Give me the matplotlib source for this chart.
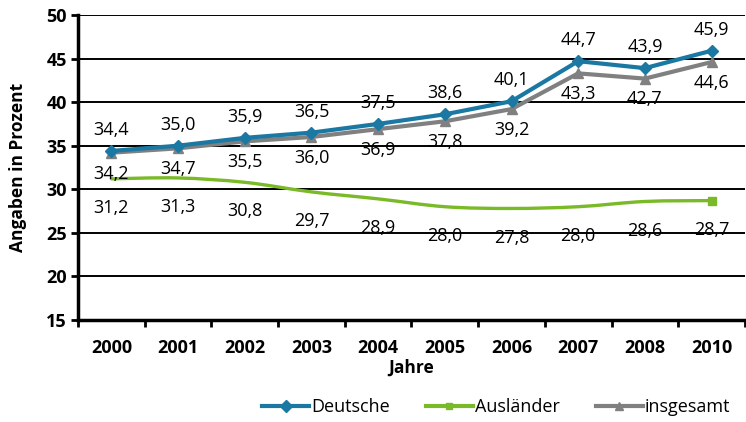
import matplotlib
matplotlib.use('Agg')
import matplotlib.pyplot as plt
from matplotlib.path import Path
from matplotlib.patches import PathPatch
from matplotlib.lines import Line2D

plt.rcParams['font.family'] = ['Open Sans', 'DejaVu Sans']

years = ['2000', '2001', '2002', '2003', '2004', '2005', '2006', '2007', '2008', '2010']
deutsche = [34.4, 35.0, 35.9, 36.5, 37.5, 38.6, 40.1, 44.7, 43.9, 45.9]
auslaender = [31.2, 31.3, 30.8, 29.7, 28.9, 28.0, 27.8, 28.0, 28.6, 28.7]
insgesamt = [34.2, 34.7, 35.5, 36.0, 36.9, 37.8, 39.2, 43.3, 42.7, 44.6]

c_de = '#1a78a3'
c_au = '#7aba28'
c_in = '#808080'


def fmt(v):
    return ('%.1f' % v).replace('.', ',')


def smooth_path(xs, ys):
    # Catmull-Rom style bezier through the points (like Excel's smoothed line)
    verts = [(xs[0], ys[0])]
    codes = [Path.MOVETO]
    n = len(xs)
    for i in range(n - 1):
        x0, y0 = (xs[i - 1], ys[i - 1]) if i > 0 else (xs[i], ys[i])
        x1, y1 = xs[i], ys[i]
        x2, y2 = xs[i + 1], ys[i + 1]
        x3, y3 = (xs[i + 2], ys[i + 2]) if i + 2 < n else (x2, y2)
        verts += [(x1 + (x2 - x0) / 6, y1 + (y2 - y0) / 6),
                  (x2 - (x3 - x1) / 6, y2 - (y3 - y1) / 6),
                  (x2, y2)]
        codes += [Path.CURVE4] * 3
    return Path(verts, codes)


fig = plt.figure(figsize=(7.46, 4.22), dpi=100)
ax = fig.add_axes([0.1046, 0.2417, 0.894, 0.7228])

x = list(range(len(years)))

for yv in range(20, 55, 5):
    ax.axhline(yv, color='black', lw=1.4, zorder=1)

ax.plot(x, deutsche, color=c_de, lw=3, marker='D', ms=6, zorder=4)
ax.plot(x, insgesamt, color=c_in, lw=3, marker='^', ms=7, zorder=3)
ax.add_patch(PathPatch(smooth_path(x, auslaender), fill=False, edgecolor=c_au,
                       lw=2.4, zorder=3, capstyle='round'))
ax.plot(x[-1], auslaender[-1], color=c_au, marker='s', ms=6, ls='none', zorder=3)

for xi, v in zip(x, deutsche):
    ax.annotate(fmt(v), (xi, v), xytext=(0, 15), textcoords='offset points',
                ha='center', va='center', fontsize=13)
for xi, v in zip(x, insgesamt):
    ax.annotate(fmt(v), (xi, v), xytext=(0, -15), textcoords='offset points',
                ha='center', va='center', fontsize=13)
for xi, v in zip(x, auslaender):
    ax.annotate(fmt(v), (xi, v), xytext=(0, -21), textcoords='offset points',
                ha='center', va='center', fontsize=13)

ax.set_xlim(-0.5, len(years) - 0.5)
ax.set_ylim(15, 50)
ax.set_yticks(range(15, 55, 5))
ax.set_xticks(x)
ax.set_xticklabels(years, fontweight='bold', fontsize=13)
ax.set_xticks([i - 0.5 for i in range(len(years) + 1)], minor=True)
for lab in ax.get_yticklabels():
    lab.set_fontweight('bold')
    lab.set_fontsize(13)
ax.tick_params(axis='x', which='major', length=0, pad=14)
ax.tick_params(axis='x', which='minor', length=5, width=2)
ax.tick_params(axis='y', length=5, width=2, pad=3)

for s in ['top', 'right']:
    ax.spines[s].set_visible(False)
ax.spines['left'].set_linewidth(2.5)
ax.spines['bottom'].set_linewidth(2.5)

ax.set_xlabel('Jahre', fontweight='bold', fontsize=12.5, labelpad=1)
ax.set_ylabel('Angaben in Prozent', fontweight='bold', fontsize=12.5, labelpad=14)

handles = [
    Line2D([], [], color=c_de, lw=3, marker='D', ms=6),
    Line2D([], [], color=c_au, lw=3, marker='s', ms=5),
    Line2D([], [], color=c_in, lw=3, marker='^', ms=6),
]
fig.legend(handles, ['Deutsche', 'Ausländer', 'insgesamt'], ncol=3, frameon=False,
           loc='lower center', bbox_to_anchor=(0.665, -0.025), fontsize=13,
           handlelength=2.6, handletextpad=0.1, columnspacing=2.0)

fig.savefig('out.png', dpi=100)
